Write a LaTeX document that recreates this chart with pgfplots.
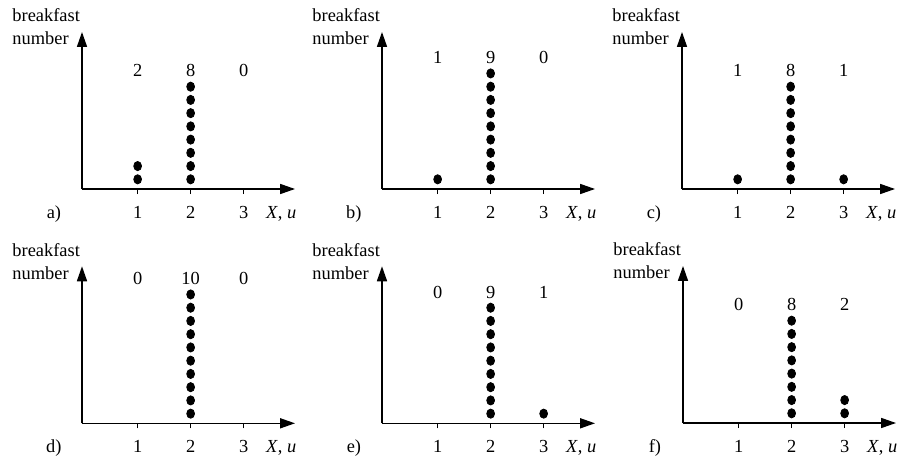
\documentclass[border=0pt]{standalone}
\usepackage{fontspec}
\setmainfont{Liberation Serif}
\usepackage{pgfplots}
\pgfplotsset{compat=1.18}
\usetikzlibrary{arrows.meta}

% common look of the six dot plots
\pgfplotsset{
  dotpanel/.style={
    x=26.5bp, y=6.62bp,
    xmin=-0.05, xmax=3.97, ymin=0.27, ymax=12.13,
    enlargelimits=false,
    axis lines=left,
    axis line style={line width=0.8bp, -{Triangle[length=7.5bp,width=5bp]}},
    xtick={1,2,3}, xticklabels={1,2,3}, ytick=\empty,
    tick align=outside, major tick length=2.5bp,
    tick style={line width=0.6bp, black},
    xticklabel style={anchor=base, yshift=-12.2bp},
    clip=false,
    anchor=south west,
  },
  dots/.style={only marks, mark=*, mark size=2.3bp,
    mark options={fill=black, draw=black, xscale=0.85}},
}

% axis titles and panel letter
\newcommand\panelframe[1]{%
  \node[anchor=base west, inner sep=0pt] at (axis cs:-1.37,12.9) {breakfast};
  \node[anchor=base west, inner sep=0pt] at (axis cs:-1.37,11.15) {number};
  \node[anchor=base, inner sep=0pt, yshift=-14.7bp] at (axis cs:-0.58,0.27) {#1)};
  \node[anchor=base west, inner sep=0pt, yshift=-14.7bp] at (axis cs:3.415,0.27) {\textit{X}\/, \textit{u}};
}
% counts written above the three columns
\newcommand\counts[4]{% height, n1, n2, n3
  \node[anchor=base] at (axis cs:1,#1) {#2};
  \node[anchor=base] at (axis cs:2,#1) {#3};
  \node[anchor=base] at (axis cs:3,#1) {#4};
}

\begin{document}
\fontsize{9.2bp}{11bp}\selectfont
\begin{tikzpicture}

% a)
\begin{axis}[dotpanel, at={(0bp,0bp)}]
  \addplot[dots] coordinates {(1,1) (1,2)
    (2,1) (2,2) (2,3) (2,4) (2,5) (2,6) (2,7) (2,8)};
  \counts{8.73}{2}{8}{0}
  \panelframe{a}
\end{axis}

% b)
\begin{axis}[dotpanel, at={(150bp,0bp)}]
  \addplot[dots] coordinates {(1,1)
    (2,1) (2,2) (2,3) (2,4) (2,5) (2,6) (2,7) (2,8) (2,9)};
  \counts{9.73}{1}{9}{0}
  \panelframe{b}
\end{axis}

% c)
\begin{axis}[dotpanel, at={(300bp,0bp)}]
  \addplot[dots] coordinates {(1,1)
    (2,1) (2,2) (2,3) (2,4) (2,5) (2,6) (2,7) (2,8)
    (3,1)};
  \counts{8.73}{1}{8}{1}
  \panelframe{c}
\end{axis}

% d)
\begin{axis}[dotpanel, at={(0bp,-117.15bp)}]
  \addplot[dots] coordinates {
    (2,1) (2,2) (2,3) (2,4) (2,5) (2,6) (2,7) (2,8) (2,9) (2,10)};
  \counts{10.73}{0}{10}{0}
  \panelframe{d}
\end{axis}

% e)
\begin{axis}[dotpanel, at={(150bp,-117.15bp)}]
  \addplot[dots] coordinates {
    (2,1) (2,2) (2,3) (2,4) (2,5) (2,6) (2,7) (2,8) (2,9)
    (3,1)};
  \counts{9.73}{0}{9}{1}
  \panelframe{e}
\end{axis}

% f)
\begin{axis}[dotpanel, at={(300.5bp,-117bp)}]
  \addplot[dots] coordinates {
    (2,1) (2,2) (2,3) (2,4) (2,5) (2,6) (2,7) (2,8)
    (3,1) (3,2)};
  \counts{8.73}{0}{8}{2}
  \panelframe{f}
\end{axis}

\pgfresetboundingbox
\path[use as bounding box] (-41bp,-136.5bp) rectangle (410bp,94.5bp);
\end{tikzpicture}
\end{document}
